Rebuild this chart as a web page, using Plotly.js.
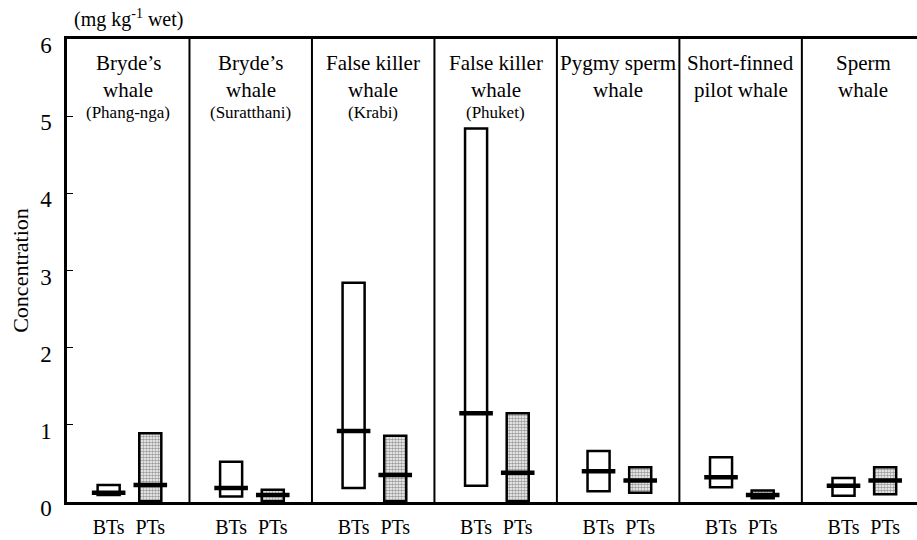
<!DOCTYPE html>
<html>
<head>
<meta charset="utf-8">
<script src="https://cdn.plot.ly/plotly-3.0.1.min.js"></script>
<style>
html,body{margin:0;padding:0;background:#fff;}
</style>
</head>
<body>
<div id="chart" style="width:917px;height:540px;"></div>
<script>
// ---- data ----
const titleLine1 = ["Bryde’s", "Bryde’s", "False killer", "False killer", "Pygmy sperm", "Short-finned", "Sperm"];
const titleLine2 = ["whale", "whale", "whale", "whale", "whale", "pilot whale", "whale"];
const titleLine3 = ["(Phang-nga)", "(Suratthani)", "(Krabi)", "(Phuket)", "", "", ""];
const seriesNames = ["BTs", "PTs"];

const btMin = [0.09, 0.07, 0.18, 0.21, 0.14, 0.19, 0.08];
const btMax = [0.22, 0.52, 2.84, 4.84, 0.66, 0.58, 0.31];
const btMed = [0.12, 0.18, 0.92, 1.15, 0.40, 0.32, 0.21];

const ptMin = [0.01, 0.01, 0.01, 0.01, 0.12, 0.05, 0.10];
const ptMax = [0.89, 0.16, 0.86, 1.15, 0.45, 0.15, 0.45];
const ptMed = [0.22, 0.09, 0.35, 0.38, 0.28, 0.09, 0.28];

// ---- layout helpers ----
const nGroups = titleLine1.length;
const btOffset = 0.34, ptOffset = 0.68, barW = 0.18;
const idx = titleLine1.map((_, i) => i);
const btX = idx.map(i => i + btOffset);
const ptX = idx.map(i => i + ptOffset);
const FONT = "Liberation Serif";

const traces = [
  {
    type: "bar", x: btX, base: btMin, y: btMax.map((v, i) => v - btMin[i]),
    width: barW, marker: {color: "#ffffff", line: {color: "#000", width: 2.5}},
    hoverinfo: "skip", showlegend: false
  },
  {
    type: "bar", x: ptX, base: ptMin, y: ptMax.map((v, i) => v - ptMin[i]),
    width: barW,
    marker: {color: "#ffffff", line: {color: "#000", width: 2.5},
      pattern: {shape: ".", size: 3, solidity: 0.6, fgcolor: "#3a3a3a", bgcolor: "#ffffff", fillmode: "overlay"}},
    hoverinfo: "skip", showlegend: false
  },
  {
    type: "scatter", mode: "markers", x: btX, y: btMed,
    marker: {symbol: "line-ew", size: 24, line: {color: "#000", width: 4.5}},
    hoverinfo: "skip", showlegend: false
  },
  {
    type: "scatter", mode: "markers", x: ptX, y: ptMed,
    marker: {symbol: "line-ew", size: 24, line: {color: "#000", width: 4.5}},
    hoverinfo: "skip", showlegend: false
  }
];

const shapes = [];
for (let i = 1; i < nGroups; i++) {
  shapes.push({type: "line", xref: "x", yref: "paper", x0: i, x1: i, y0: 0, y1: 1,
    line: {color: "#000", width: 2}});
}

const annotations = [];
idx.forEach(i => {
  annotations.push({xref: "x", yref: "paper", x: i + 0.5, y: 0.948, text: titleLine1[i],
    showarrow: false, font: {family: FONT, size: 21, color: "#000"}, xanchor: "center", yanchor: "middle"});
  annotations.push({xref: "x", yref: "paper", x: i + 0.5, y: 0.890, text: titleLine2[i],
    showarrow: false, font: {family: FONT, size: 21, color: "#000"}, xanchor: "center", yanchor: "middle"});
  if (titleLine3[i]) {
    annotations.push({xref: "x", yref: "paper", x: i + 0.5, y: 0.842, text: titleLine3[i],
      showarrow: false, font: {family: FONT, size: 17, color: "#000"}, xanchor: "center", yanchor: "middle"});
  }
});
annotations.push({xref: "paper", yref: "paper", x: 0.006, y: 1.045, text: "(mg kg<sup>-1</sup> wet)",
  showarrow: false, font: {family: FONT, size: 20, color: "#000"}, xanchor: "left", yanchor: "middle"});

const tickvals = [], ticktext = [];
idx.forEach(i => {
  tickvals.push(btX[i]); ticktext.push(seriesNames[0]);
  tickvals.push(ptX[i]); ticktext.push(seriesNames[1]);
});

const layout = {
  width: 917, height: 540,
  margin: {l: 67, r: 0, t: 39, b: 38},
  paper_bgcolor: "#fff", plot_bgcolor: "#fff",
  barmode: "overlay",
  font: {family: FONT, color: "#000"},
  xaxis: {
    range: [0, 6.94], showgrid: false, zeroline: false,
    showline: true, mirror: true, linecolor: "#000", linewidth: 2.5,
    tickmode: "array", tickvals: tickvals, ticktext: ticktext, ticks: "",
    tickfont: {family: FONT, size: 20, color: "#000"}, ticklabelstandoff: 5
  },
  yaxis: {
    range: [0, 6], dtick: 1, showgrid: false, zeroline: false,
    showline: true, linecolor: "#000", linewidth: 2.5,
    ticks: "inside", ticklen: 6, tickwidth: 1, tickcolor: "#000",
    tickfont: {family: FONT, size: 23, color: "#000"}, ticklabelstandoff: 8, ticklabelshift: 6,
    title: {text: "Concentration", font: {family: FONT, size: 22, color: "#000"}, standoff: 6}
  },
  shapes: shapes,
  annotations: annotations
};

Plotly.newPlot("chart", traces, layout, {displayModeBar: false});
</script>
</body>
</html>
